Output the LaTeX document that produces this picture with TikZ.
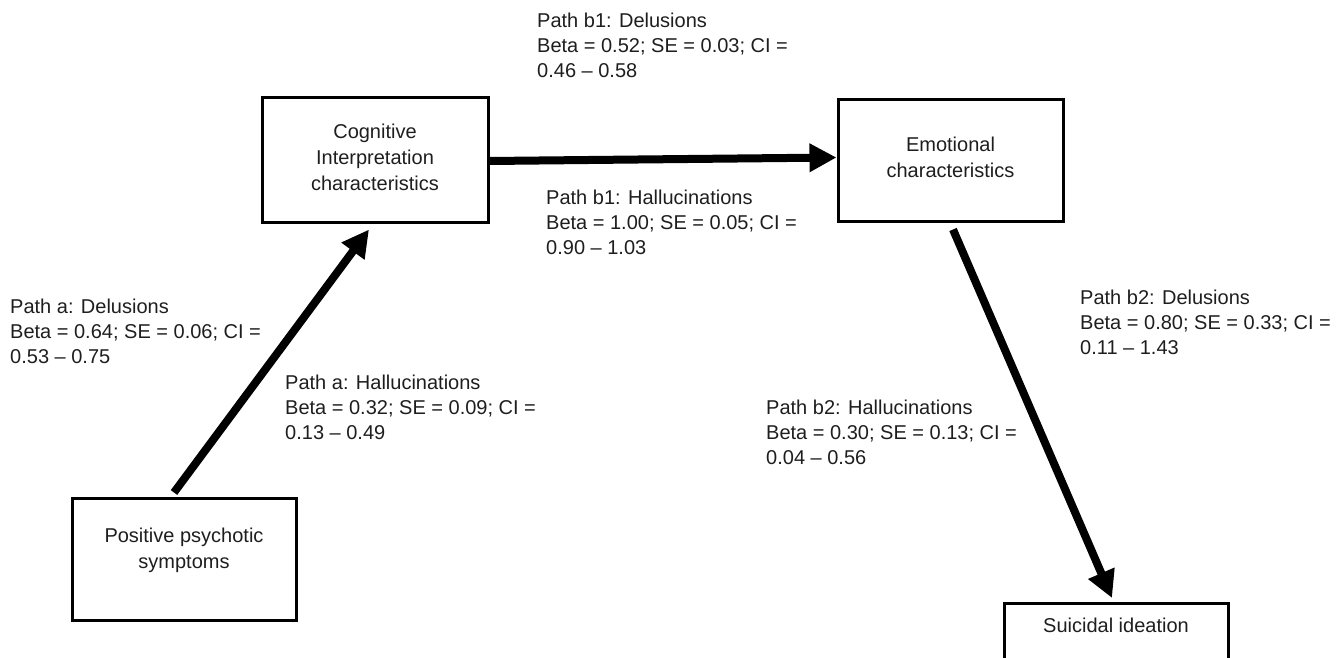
\documentclass[tikz,border=0pt]{standalone}
\usepackage{fontspec}
\setmainfont{Liberation Sans}
\usetikzlibrary{arrows.meta}
\definecolor{ink}{HTML}{1E1E1E}
\begin{document}
\begin{tikzpicture}[x=1pt,y=-1pt,
  box/.style={draw=black,line width=3pt,rectangle,inner sep=0pt},
  lbl/.style={text=ink,align=center,inner sep=0pt,font=\fontsize{20}{26}\selectfont},
  coef/.style={text=ink,align=left,inner sep=0pt,anchor=north west,font=\fontsize{20}{25}\selectfont},
  path/.style={line width=8pt,-{Triangle[length=27pt,width=27pt]}}]
\useasboundingbox (0,0) rectangle (1336,658);
\clip (0,0) rectangle (1336,658);
% boxes
\node[box,minimum width=226pt,minimum height=124pt,
  label={[lbl,yshift=3pt]center:{Cognitive\\Interpretation\\characteristics}}] (cog) at (375,160) {};
\node[box,minimum width=225pt,minimum height=121pt,
  label={[lbl,yshift=3pt]center:{Emotional\\characteristics}}] (emo) at (950.5,160.5) {};
\node[box,minimum width=224pt,minimum height=122pt,
  label={[lbl,yshift=9pt]center:{Positive psychotic\\symptoms}}] (pos) at (184,559) {};
\node[box,minimum width=224pt,minimum height=122pt,anchor=north,
  label={[lbl,yshift=-31pt]north:{Suicidal ideation}}] (sui) at (1116,602) {};
% arrows
\draw[path] ([xshift=-10pt,yshift=4pt]pos.north) -- ([xshift=-6pt,yshift=-6pt]cog.south);
\draw[path] ([yshift=-1pt]cog.east) -- ([yshift=3pt]emo.west);
\draw[path] ([xshift=2.5pt,yshift=-7pt]emo.south) -- ([xshift=-4pt,yshift=4pt]sui.north);
% coefficient labels
\node[coef] (b1d) at (537,12.5) {Path b1: Delusions\\Beta = 0.52; SE = 0.03; CI =\\0.46 -- 0.58};
\node[coef] (b1h) at (546,189.5) {Path b1: Hallucinations\\Beta = 1.00; SE = 0.05; CI =\\0.90 -- 1.03};
\node[coef] (ad) at (10,298.5) {Path a: Delusions\\Beta = 0.64; SE = 0.06; CI =\\0.53 -- 0.75};
\node[coef] (ah) at (285,374.5) {Path a: Hallucinations\\Beta = 0.32; SE = 0.09; CI =\\0.13 -- 0.49};
\node[coef] (b2d) at (1080,289.5) {Path b2: Delusions\\Beta = 0.80; SE = 0.33; CI =\\0.11 -- 1.43};
\node[coef] (b2h) at (766,399.5) {Path b2: Hallucinations\\Beta = 0.30; SE = 0.13; CI =\\0.04 -- 0.56};
\end{tikzpicture}
\end{document}
